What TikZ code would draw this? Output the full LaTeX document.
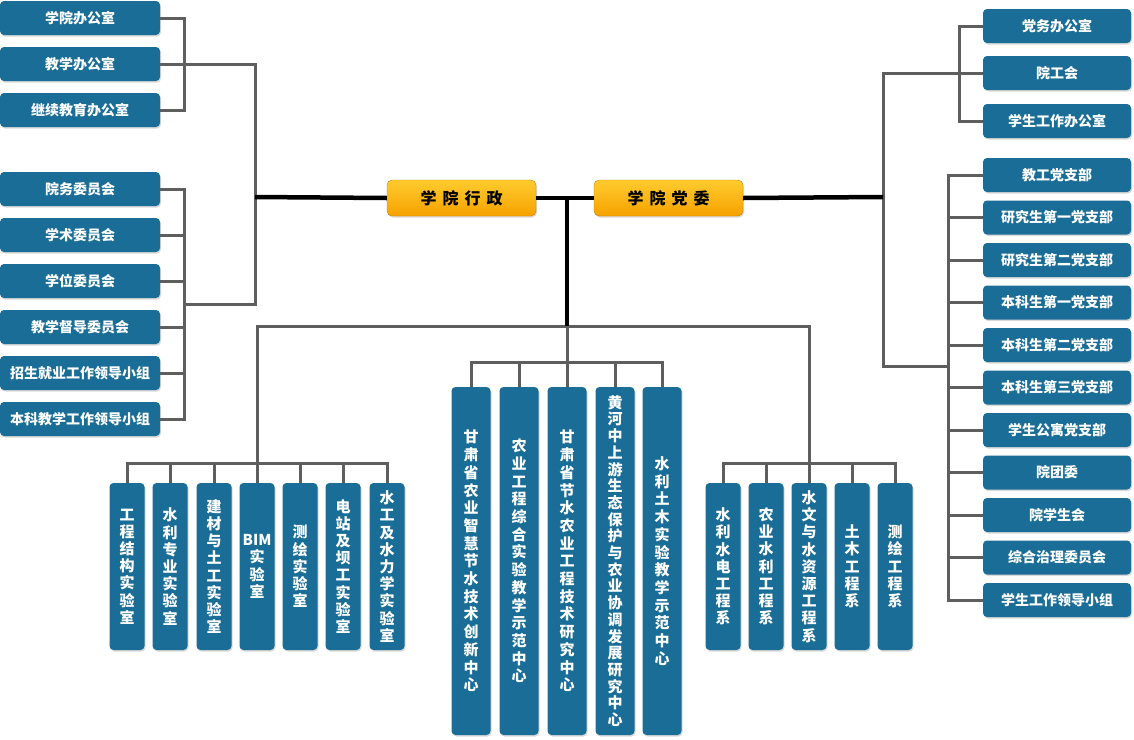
\documentclass[tikz,border=0pt]{standalone}
\usepackage{fontspec}
\setmainfont{Noto Sans CJK SC}
\usetikzlibrary{shadows}
\definecolor{boxblue}{HTML}{196D96}
\definecolor{linegray}{HTML}{5E5E5E}
\definecolor{headtop}{HTML}{FFCB2E}
\definecolor{headbot}{HTML}{F6A200}

\begin{document}
\begin{tikzpicture}[x=1pt, y=-1pt,
		box/.style={rectangle, rounded corners=4pt, fill=boxblue, text=white, inner sep=0pt, minimum height=34, font=\bfseries\fontsize{14}{16}\selectfont, drop shadow={opacity=0.3, shadow xshift=1pt, shadow yshift=-1.5pt}},
		boxl/.style={box, minimum width=160},
		boxr/.style={box, minimum width=148},
		lab/.style={box, minimum width=35, minimum height=167, align=center, font=\bfseries\fontsize{15}{17.2}\selectfont},
		ctr/.style={box, minimum width=39, minimum height=348, align=center, font=\bfseries\fontsize{15}{17.7}\selectfont},
		head/.style={rectangle, rounded corners=5pt, top color=headtop, bottom color=headbot, draw=headbot!80!black, text=black, minimum width=149, minimum height=36, font=\bfseries\fontsize{16}{18}\selectfont, drop shadow={opacity=0.3, shadow xshift=1pt, shadow yshift=-1.5pt}},
		ln/.style={draw=linegray, line width=3pt},
		trunk/.style={draw=black, line width=4.5pt}
		]
		\useasboundingbox (0,0) rectangle (1134,739);
		
		%Nodes
		\node[head] (admin) at (461.5,198) {学\hspace{6pt}院\hspace{6pt}行\hspace{6pt}政};
		\node[head] (party) at (668.5,198) {学\hspace{6pt}院\hspace{6pt}党\hspace{6pt}委};
		
		\node[boxl] (lo1) at (80,18)  {学院办公室};
		\node[boxl] (lo2) at (80,64)  {教学办公室};
		\node[boxl] (lo3) at (80,110) {继续教育办公室};
		\node[boxl] (lc1) at (80,189) {院务委员会};
		\node[boxl] (lc2) at (80,235) {学术委员会};
		\node[boxl] (lc3) at (80,281) {学位委员会};
		\node[boxl] (lc4) at (80,327) {教学督导委员会};
		\node[boxl] (lc5) at (80,373) {招生就业工作领导小组};
		\node[boxl] (lc6) at (80,419) {本科教学工作领导小组};
		
		\node[boxr] (ro1)  at (1057,26)    {党务办公室};
		\node[boxr] (ro2)  at (1057,73)    {院工会};
		\node[boxr] (ro3)  at (1057,121)   {学生工作办公室};
		\node[boxr] (rc1)  at (1057,175)   {教工党支部};
		\node[boxr] (rc2)  at (1057,217.5) {研究生第一党支部};
		\node[boxr] (rc3)  at (1057,260)   {研究生第二党支部};
		\node[boxr] (rc4)  at (1057,302.5) {本科生第一党支部};
		\node[boxr] (rc5)  at (1057,345)   {本科生第二党支部};
		\node[boxr] (rc6)  at (1057,387.5) {本科生第三党支部};
		\node[boxr] (rc7)  at (1057,430)   {学生公寓党支部};
		\node[boxr] (rc8)  at (1057,472.5) {院团委};
		\node[boxr] (rc9)  at (1057,515)   {院学生会};
		\node[boxr] (rc10) at (1057,557.5) {综合治理委员会};
		\node[boxr] (rc11) at (1057,600)   {学生工作领导小组};
		
		\node[lab] (lab1) at (127,566.5) {工\\程\\结\\构\\实\\验\\室};
		\node[lab] (lab2) at (170,566.5) {水\\利\\专\\业\\实\\验\\室};
		\node[lab] (lab3) at (214,566.5) {建\\材\\与\\土\\工\\实\\验\\室};
		\node[lab] (lab4) at (257,566.5) {BIM\\实\\验\\室};
		\node[lab] (lab5) at (300,566.5) {测\\绘\\实\\验\\室};
		\node[lab] (lab6) at (343,566.5) {电\\站\\及\\坝\\工\\实\\验\\室};
		\node[lab] (lab7) at (387,566.5) {水\\工\\及\\水\\力\\学\\实\\验\\室};
		
		\node[ctr] (ctr1) at (471,561) {甘\\肃\\省\\农\\业\\智\\慧\\节\\水\\技\\术\\创\\新\\中\\心};
		\node[ctr] (ctr2) at (519,561) {农\\业\\工\\程\\综\\合\\实\\验\\教\\学\\示\\范\\中\\心};
		\node[ctr] (ctr3) at (567,561) {甘\\肃\\省\\节\\水\\农\\业\\工\\程\\技\\术\\研\\究\\中\\心};
		\node[ctr, font=\bfseries\fontsize{15}{16.7}\selectfont] (ctr4) at (615,561) {黄\\河\\中\\上\\游\\生\\态\\保\\护\\与\\农\\业\\协\\调\\发\\展\\研\\究\\中\\心};
		\node[ctr] (ctr5) at (662,561) {水\\利\\土\\木\\实\\验\\教\\学\\示\\范\\中\\心};
		
		\node[lab] (dep1) at (723,566.5) {水\\利\\水\\电\\工\\程\\系};
		\node[lab] (dep2) at (766,566.5) {农\\业\\水\\利\\工\\程\\系};
		\node[lab] (dep3) at (809,566.5) {水\\文\\与\\水\\资\\源\\工\\程\\系};
		\node[lab] (dep4) at (852,566.5) {土\\木\\工\\程\\系};
		\node[lab] (dep5) at (895,566.5) {测\\绘\\工\\程\\系};
		
		%Junctions
		\coordinate (lA)   at (184,64);
		\coordinate (lB)   at (184,304);
		\coordinate (lT)   at (255,197);
		\coordinate (rA)   at (959,73);
		\coordinate (rB)   at (948,366);
		\coordinate (rT)   at (883,197);
		\coordinate (ctop) at (567,197);
		\coordinate (mid)  at (567,326);
		\coordinate (bL)   at (257,463);
		\coordinate (bC)   at (567,362);
		\coordinate (bR)   at (809,463);
		
		%Lines
		\draw[ln] (lo1.east) -| (lA);
		\draw[ln] (lo2.east) -- (lA);
		\draw[ln] (lo3.east) -| (lA);
		\draw[ln] (lc1.east) -| (lB);
		\draw[ln] (lc2.east) -| (lB);
		\draw[ln] (lc3.east) -| (lB);
		\draw[ln] (lc4.east) -| (lB);
		\draw[ln] (lc5.east) -| (lB);
		\draw[ln] (lc6.east) -| (lB);
		\draw[ln] (lA) -| (lT);
		\draw[ln] (lB) -| (lT);
		
		\draw[ln] (ro1.west) -| (rA);
		\draw[ln] (ro2.west) -- (rA);
		\draw[ln] (ro3.west) -| (rA);
		\draw[ln] (rc1.west)  -| (rB);
		\draw[ln] (rc2.west)  -| (rB);
		\draw[ln] (rc3.west)  -| (rB);
		\draw[ln] (rc4.west)  -| (rB);
		\draw[ln] (rc5.west)  -| (rB);
		\draw[ln] (rc6.west)  -| (rB);
		\draw[ln] (rc7.west)  -| (rB);
		\draw[ln] (rc8.west)  -| (rB);
		\draw[ln] (rc9.west)  -| (rB);
		\draw[ln] (rc10.west) -| (rB);
		\draw[ln] (rc11.west) -| (rB);
		\draw[ln] (rA) -| (rT);
		\draw[ln] (rB) -| (rT);
		
		\draw[ln] (lab1.north) |- (bL);
		\draw[ln] (lab2.north) |- (bL);
		\draw[ln] (lab3.north) |- (bL);
		\draw[ln] (lab4.north) -- (bL);
		\draw[ln] (lab5.north) |- (bL);
		\draw[ln] (lab6.north) |- (bL);
		\draw[ln] (lab7.north) |- (bL);
		\draw[ln] (bL) |- (mid);
		
		\draw[ln] (ctr1.north) |- (bC);
		\draw[ln] (ctr2.north) |- (bC);
		\draw[ln] (ctr3.north) -- (bC);
		\draw[ln] (ctr4.north) |- (bC);
		\draw[ln] (ctr5.north) |- (bC);
		\draw[ln] (bC) -- (mid);
		
		\draw[ln] (dep1.north) |- (bR);
		\draw[ln] (dep2.north) |- (bR);
		\draw[ln] (dep3.north) -- (bR);
		\draw[ln] (dep4.north) |- (bR);
		\draw[ln] (dep5.north) |- (bR);
		\draw[ln] (bR) |- (mid);
		
		\draw[trunk] (lT) -- (admin.west);
		\draw[trunk] (admin.east) -- (party.west);
		\draw[trunk] (party.east) -- (rT);
		\draw[trunk] (ctop) -- (mid);
		
	\end{tikzpicture}
\end{document}
